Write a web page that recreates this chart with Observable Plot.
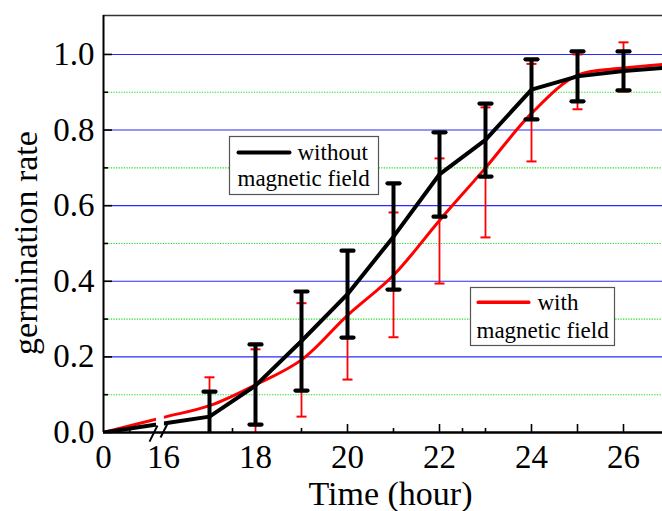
<!DOCTYPE html>
<html><head><meta charset="utf-8">
<script src="https://cdn.jsdelivr.net/npm/d3@7"></script>
<script src="https://cdn.jsdelivr.net/npm/@observablehq/plot@0.6"></script>
<style>
html,body{margin:0;padding:0;background:#fff;overflow:hidden;}
#chart svg, #chart svg text {font-family: "Liberation Serif", "Times New Roman", Times, serif !important;}
</style>
</head><body><div id="chart"></div>
<script>
// ---- data ----
const hours        = [0, 16, 17, 18, 19, 20, 21, 22, 23, 24, 25, 26, 27];
const withoutField = [0, 0.024, 0.042, 0.124, 0.242, 0.366, 0.518, 0.683, 0.774, 0.907, 0.942, 0.956, 0.966];
const withField    = [0, 0.040, 0.071, 0.126, 0.192, 0.310, 0.416, 0.561, 0.700, 0.844, 0.945, 0.964, 0.975];
const errHours     = [17, 18, 19, 20, 21, 22, 23, 24, 25, 26];
const withoutLow   = [-0.024, 0.021, 0.111, 0.251, 0.378, 0.571, 0.677, 0.828, 0.876, 0.905];
const withoutHigh  = [0.108, 0.233, 0.373, 0.481, 0.659, 0.794, 0.870, 0.987, 1.008, 1.008];
const withLow      = [-0.010, -0.010, 0.042, 0.140, 0.252, 0.394, 0.516, 0.717, 0.855, 0.902];
const withHigh     = [0.146, 0.220, 0.342, 0.480, 0.582, 0.725, 0.860, 0.975, 1.000, 1.032];
const xTickLabels  = [0, 16, 18, 20, 22, 24, 26];
const xMajorTicks  = [20, 22, 24, 25, 26];
const xMinorTicks  = [7, 17.5, 19, 21, 22.5, 23];
const yTickLabels  = [0, 0.2, 0.4, 0.6, 0.8, 1.0];
const yMinorTicks  = [0.1, 0.3, 0.5, 0.7, 0.9];
const seriesNames  = ["without", "magnetic field", "with", "magnetic field"];

// ---- layout ----
const W = 662, H = 511;
const mL = 103, mT = 15, mB = 79;
const yMax = 1.103;
const xDomain = [0, 16, 27];
const xRange = [103, 163, 669];
const yPerPx = yMax / (H - mB - mT);
const xPerPx = 16 / (163 - 103);
const capHalf = 6 / 46;      // half cap width in hours
const capHalfRed = 5 / 46;
const breakFrom = 14.13, breakTo = 16.02;
// the two slanted "//" axis-break strokes
const breakStrokes = [
  {x1: 12.27, y1: -0.024, x2: 14.4, y2: 0.0185},
  {x1: 15.2, y1: -0.0132, x2: 16.09, y2: 0.0238}
];

const black = hours.map((t, i) => ({t, v: withoutField[i]}));
const red = hours.map((t, i) => ({t, v: withField[i]}));
const blackErr = errHours.map((t, i) => ({t, lo: withoutLow[i], hi: withoutHigh[i]}));
const redErr = errHours.map((t, i) => ({t, lo: withLow[i], hi: withHigh[i]}));
const capsOf = (arr) => arr.flatMap(d => [{t: d.t, y: d.lo}, {t: d.t, y: d.hi}]);

const serif = "Liberation Serif";
const legendText = (label, dx, baseline) => Plot.text([label], {
  frameAnchor: "top-left", text: d => d, dx, dy: baseline - 0.32 * 23,
  textAnchor: "start", lineAnchor: "middle", fontSize: 23, fontFamily: serif
});

const chart = Plot.plot({
  width: W, height: H,
  marginLeft: mL, marginRight: 0, marginTop: mT, marginBottom: mB,
  style: {background: "white", color: "black", overflow: "hidden"},
  x: {type: "linear", domain: xDomain, range: xRange},
  y: {domain: [0, yMax], range: [H - mB, mT]},
  marks: [
    // grid
    Plot.ruleY(yTickLabels.slice(1), {stroke: "#2b2bff", strokeWidth: 1.1}),
    Plot.ruleY(yMinorTicks, {stroke: "#22e022", strokeWidth: 1.1, strokeDasharray: "1.3,1.3"}),
    // red error bars
    Plot.ruleX(redErr, {x: "t", y1: "lo", y2: "hi", stroke: "#ff0000", strokeWidth: 1.8, clip: true}),
    Plot.link(capsOf(redErr), {x1: d => d.t - capHalfRed, x2: d => d.t + capHalfRed, y1: "y", y2: "y",
      stroke: "#ff0000", strokeWidth: 2, clip: true}),
    // lines
    Plot.line(red, {x: "t", y: "v", stroke: "#ff0000", strokeWidth: 3, curve: "catmull-rom", clip: true}),
    Plot.line(black, {x: "t", y: "v", stroke: "black", strokeWidth: 4, strokeLinejoin: "round", clip: true}),
    // black error bars
    Plot.ruleX(blackErr, {x: "t", y1: "lo", y2: "hi", stroke: "black", strokeWidth: 4, clip: true}),
    Plot.link(capsOf(blackErr), {x1: d => d.t - capHalf, x2: d => d.t + capHalf, y1: "y", y2: "y",
      stroke: "black", strokeWidth: 4.2, strokeLinecap: "round", clip: true}),
    // axis break gap
    Plot.rect([0], {x1: breakFrom, x2: breakTo, y1: 0.0045, y2: 0.07, fill: "white"}),
    // frame
    Plot.ruleY([yMax], {stroke: "#333", strokeWidth: 1.6}),
    Plot.ruleX([0], {stroke: "black", strokeWidth: 2}),
    Plot.ruleY([0], {stroke: "black", strokeWidth: 2.5}),
    // ticks (inward)
    Plot.ruleY(yTickLabels, {x1: 0, x2: 9 * xPerPx, stroke: "black", strokeWidth: 1.6}),
    Plot.ruleY(yMinorTicks, {x1: 0, x2: 5 * xPerPx, stroke: "black", strokeWidth: 1.6}),
    Plot.ruleX(xMajorTicks, {y1: 0, y2: 8 * yPerPx, stroke: "black", strokeWidth: 1.6}),
    Plot.ruleX(xMinorTicks, {y1: 0, y2: 4 * yPerPx, stroke: "black", strokeWidth: 1.6}),
    // break marks
    Plot.link(breakStrokes, {x1: "x1", y1: "y1", x2: "x2", y2: "y2", stroke: "black", strokeWidth: 2}),
    // tick labels
    Plot.axisY({ticks: yTickLabels, tickSize: 0, tickPadding: 9, tickFormat: d => d.toFixed(1), fontSize: 33, fontFamily: serif, label: null}),
    Plot.axisX({ticks: xTickLabels, tickSize: 0, tickPadding: 12, tickFormat: d => String(d), fontSize: 33, fontFamily: serif, label: null}),
    // axis titles
    Plot.text(["germination rate"], {frameAnchor: "left", text: d => d, rotate: -90, textAnchor: "middle", lineAnchor: "middle",
      dx: -77, dy: 19, fontSize: 34, fontFamily: serif}),
    Plot.text(["Time (hour)"], {frameAnchor: "bottom", text: d => d, textAnchor: "middle", lineAnchor: "middle",
      dx: 7.5, dy: 62, fontSize: 34, fontFamily: serif}),
    // legend 1 (without magnetic field)
    Plot.frame({insetLeft: 126, insetRight: 284, insetTop: 121, insetBottom: 238, stroke: "#555", strokeWidth: 1.2, fill: "white"}),
    Plot.frame({insetLeft: 133, insetRight: 371, insetTop: 135, insetBottom: 278, fill: "black", stroke: "none", rx: 2}),
    legendText(seriesNames[0], 194, 144),
    legendText(seriesNames[1], 134, 170),
    // legend 2 (with magnetic field)
    Plot.frame({insetLeft: 367, insetRight: 48, insetTop: 272, insetBottom: 87, stroke: "#555", strokeWidth: 1.2, fill: "white"}),
    Plot.frame({insetLeft: 373, insetRight: 132, insetTop: 285, insetBottom: 128.5, fill: "#ff0000", stroke: "none", rx: 1.5}),
    legendText(seriesNames[2], 434, 294),
    legendText(seriesNames[3], 373, 322)
  ]
});
document.getElementById("chart").appendChild(chart);
</script>
</body></html>
